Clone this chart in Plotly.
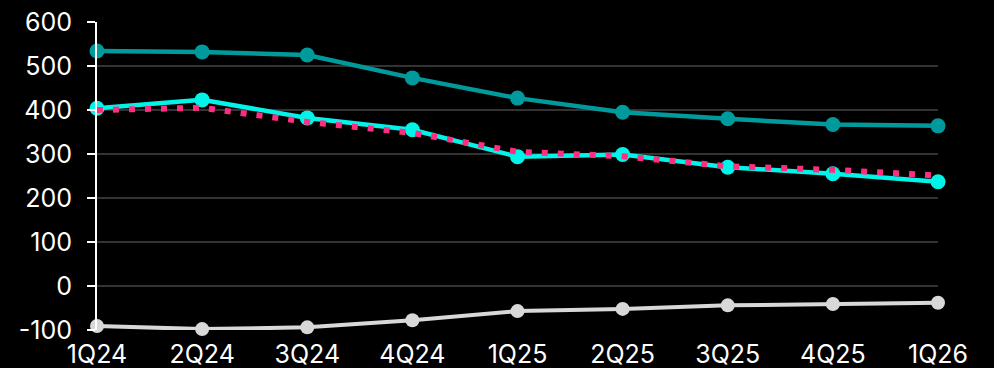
import plotly.graph_objects as go

quarters = ["1Q24", "2Q24", "3Q24", "4Q24", "1Q25", "2Q25", "3Q25", "4Q25", "1Q26"]
teal_series = [534, 532, 525, 473, 427, 395, 380, 367, 364]
cyan_series = [404, 423, 382, 355, 294, 299, 270, 255, 237]
pink_series = [400, 405, 373, 348, 305, 295, 272, 264, 251]
gray_series = [-91, -98, -94, -78, -57, -52, -44, -41, -38]
y_ticks = [-100, 0, 100, 200, 300, 400, 500, 600]
y_tick_text = ["-100", "0", "100", "200", "300", "400", "500", "600"]

TEAL = "#009a9c"
CYAN = "#00f5e8"
PINK = "#ff2d80"
GRAY = "#d8d8d8"
FONT = "Inter, Liberation Sans, Arial, sans-serif"

fig = go.Figure()
fig.add_trace(go.Scatter(
    x=quarters, y=teal_series, mode="lines+markers",
    line=dict(color=TEAL, width=4.5), marker=dict(color=TEAL, size=15),
))
fig.add_trace(go.Scatter(
    x=quarters, y=cyan_series, mode="lines+markers",
    line=dict(color=CYAN, width=4.5), marker=dict(color=CYAN, size=15),
))
fig.add_trace(go.Scatter(
    x=quarters, y=pink_series, mode="lines",
    line=dict(color=PINK, width=6, dash="6px,10px"),
))
fig.add_trace(go.Scatter(
    x=quarters, y=gray_series, mode="lines+markers",
    line=dict(color=GRAY, width=4), marker=dict(color=GRAY, size=14),
))

fig.update_traces(cliponaxis=False)

fig.update_layout(
    width=994, height=368,
    margin=dict(l=97, r=56, t=22, b=38),
    paper_bgcolor="black", plot_bgcolor="black",
    showlegend=False,
    font=dict(family=FONT, size=25, color="white"),
    xaxis=dict(
        type="category", range=[0, 8], showgrid=False, zeroline=False,
        showline=False, ticks="", ticklabelstandoff=7, automargin=False,
        tickfont=dict(family=FONT, size=25, color="white"),
    ),
    yaxis=dict(
        range=[-100, 600], tickvals=y_ticks, ticktext=y_tick_text,
        showgrid=True, gridcolor="#333333", gridwidth=2, zeroline=False,
        showline=True, linecolor="white", linewidth=2,
        ticks="outside", ticklen=8, tickcolor="white", tickwidth=2,
        ticklabelstandoff=10, automargin=False,
        tickfont=dict(family=FONT, size=25, color="white"),
    ),
)

fig.write_html("out.html")
